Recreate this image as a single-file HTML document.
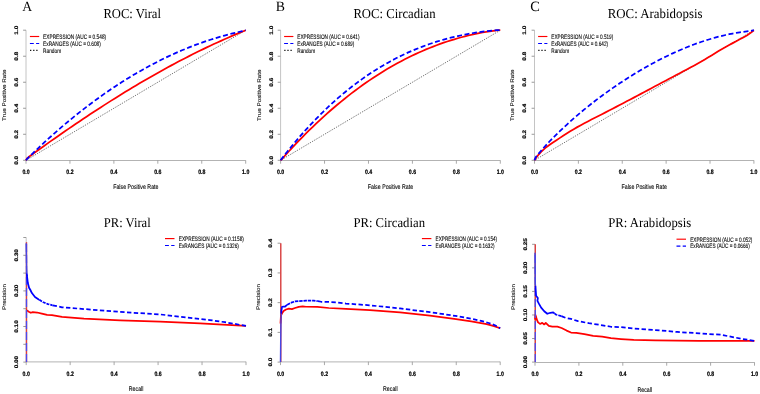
<!DOCTYPE html>
<html><head><meta charset="utf-8"><style>
html,body{margin:0;padding:0;background:#fff;}
svg{display:block;will-change:transform;text-rendering:geometricPrecision;}

</style></head><body>
<svg width="760" height="394" viewBox="0 0 760 394">
<rect width="760" height="394" fill="#fff"/>
<text x="22.2" y="11.25" textLength="9.9" lengthAdjust="spacingAndGlyphs" text-anchor="start" font-family="Liberation Serif" font-size="14.2" font-weight="normal" fill="#000" >A</text>
<text x="103.4" y="17.85" textLength="57.6" lengthAdjust="spacingAndGlyphs" text-anchor="start" font-family="Liberation Serif" font-size="13.6" font-weight="normal" fill="#000" >ROC: Viral</text>
<line x1="26" y1="160.5" x2="245.7" y2="160.5" stroke="#b3b3b3" stroke-width="1"/>
<line x1="26" y1="160.3" x2="26" y2="163.7" stroke="#9a9a9a" stroke-width="0.85"/>
<text transform="translate(26,174) scale(0.81,1)" text-anchor="middle" font-family="Liberation Sans" font-size="6.4" font-weight="bold" fill="#000"  stroke="#000" stroke-width="0.22">0.0</text>
<line x1="69.94" y1="160.3" x2="69.94" y2="163.7" stroke="#9a9a9a" stroke-width="0.85"/>
<text transform="translate(69.94,174) scale(0.81,1)" text-anchor="middle" font-family="Liberation Sans" font-size="6.4" font-weight="bold" fill="#000"  stroke="#000" stroke-width="0.22">0.2</text>
<line x1="113.88" y1="160.3" x2="113.88" y2="163.7" stroke="#9a9a9a" stroke-width="0.85"/>
<text transform="translate(113.88,174) scale(0.81,1)" text-anchor="middle" font-family="Liberation Sans" font-size="6.4" font-weight="bold" fill="#000"  stroke="#000" stroke-width="0.22">0.4</text>
<line x1="157.82" y1="160.3" x2="157.82" y2="163.7" stroke="#9a9a9a" stroke-width="0.85"/>
<text transform="translate(157.82,174) scale(0.81,1)" text-anchor="middle" font-family="Liberation Sans" font-size="6.4" font-weight="bold" fill="#000"  stroke="#000" stroke-width="0.22">0.6</text>
<line x1="201.76" y1="160.3" x2="201.76" y2="163.7" stroke="#9a9a9a" stroke-width="0.85"/>
<text transform="translate(201.76,174) scale(0.81,1)" text-anchor="middle" font-family="Liberation Sans" font-size="6.4" font-weight="bold" fill="#000"  stroke="#000" stroke-width="0.22">0.8</text>
<line x1="245.7" y1="160.3" x2="245.7" y2="163.7" stroke="#9a9a9a" stroke-width="0.85"/>
<text transform="translate(245.7,174) scale(0.81,1)" text-anchor="middle" font-family="Liberation Sans" font-size="6.4" font-weight="bold" fill="#000"  stroke="#000" stroke-width="0.22">1.0</text>
<line x1="26" y1="160.3" x2="26" y2="30.2" stroke="#c4c4c4" stroke-width="1"/>
<line x1="23.1" y1="160.3" x2="26" y2="160.3" stroke="#9a9a9a" stroke-width="1"/>
<line x1="23.1" y1="134.28" x2="26" y2="134.28" stroke="#9a9a9a" stroke-width="1"/>
<line x1="23.1" y1="108.26" x2="26" y2="108.26" stroke="#9a9a9a" stroke-width="1"/>
<line x1="23.1" y1="82.24" x2="26" y2="82.24" stroke="#9a9a9a" stroke-width="1"/>
<line x1="23.1" y1="56.22" x2="26" y2="56.22" stroke="#9a9a9a" stroke-width="1"/>
<line x1="23.1" y1="30.2" x2="26" y2="30.2" stroke="#9a9a9a" stroke-width="1"/>
<text transform="translate(17.9,160.3) scale(0.81,1) rotate(-90)" stroke="#000" stroke-width="0.22" text-anchor="middle" font-family="Liberation Sans" font-size="6.4" font-weight="bold" fill="#000">0.0</text>
<text transform="translate(17.9,134.28) scale(0.81,1) rotate(-90)" stroke="#000" stroke-width="0.22" text-anchor="middle" font-family="Liberation Sans" font-size="6.4" font-weight="bold" fill="#000">0.2</text>
<text transform="translate(17.9,108.26) scale(0.81,1) rotate(-90)" stroke="#000" stroke-width="0.22" text-anchor="middle" font-family="Liberation Sans" font-size="6.4" font-weight="bold" fill="#000">0.4</text>
<text transform="translate(17.9,82.24) scale(0.81,1) rotate(-90)" stroke="#000" stroke-width="0.22" text-anchor="middle" font-family="Liberation Sans" font-size="6.4" font-weight="bold" fill="#000">0.6</text>
<text transform="translate(17.9,56.22) scale(0.81,1) rotate(-90)" stroke="#000" stroke-width="0.22" text-anchor="middle" font-family="Liberation Sans" font-size="6.4" font-weight="bold" fill="#000">0.8</text>
<text transform="translate(17.9,30.2) scale(0.81,1) rotate(-90)" stroke="#000" stroke-width="0.22" text-anchor="middle" font-family="Liberation Sans" font-size="6.4" font-weight="bold" fill="#000">1.0</text>
<text transform="translate(135.85,189.3) scale(0.785,1)" text-anchor="middle" font-family="Liberation Sans" font-size="6.7" font-weight="normal" fill="#000"  stroke="#000" stroke-width="0.1">False Positive Rate</text>
<text transform="translate(5.9,95.25) scale(0.85,1) rotate(-90)" stroke="#000" stroke-width="0.1" text-anchor="middle" font-family="Liberation Sans" font-size="6.3" font-weight="normal" fill="#000">True Positive Rate</text>
<path d="M26,160.3 L245.7,30.2" fill="none" stroke="#333" stroke-width="0.85" stroke-dasharray="0.9 1.25" stroke-linejoin="round" />
<path d="M26,160.3 L27.1,158.18 L28.2,157.38 L29.3,156.57 L30.39,155.78 L31.49,154.98 L32.59,154.18 L33.69,153.38 L34.79,152.59 L35.89,151.79 L36.98,151 L40.52,148.46 L44.06,145.93 L47.6,143.41 L51.14,140.91 L54.67,138.42 L58.21,135.94 L61.75,133.48 L65.29,131.04 L68.82,128.6 L72.36,126.19 L75.9,123.78 L79.44,121.4 L82.97,119.02 L86.51,116.67 L90.05,114.33 L93.59,112 L97.12,109.7 L100.66,107.41 L104.2,105.13 L107.74,102.87 L111.27,100.63 L114.81,98.41 L118.35,96.2 L121.89,94.02 L125.42,91.85 L128.96,89.7 L132.5,87.56 L136.04,85.45 L139.57,83.35 L143.11,81.28 L146.65,79.22 L150.19,77.18 L153.72,75.16 L157.26,73.16 L160.8,71.19 L164.34,69.23 L167.87,67.29 L171.41,65.38 L174.95,63.48 L178.49,61.6 L182.02,59.75 L185.56,57.92 L189.1,56.11 L192.64,54.32 L196.17,52.56 L199.71,50.81 L203.25,49.09 L206.79,47.4 L210.32,45.72 L213.86,44.07 L217.4,42.44 L220.94,40.84 L224.47,39.26 L228.01,37.7 L231.55,36.17 L235.09,34.66 L238.62,33.18 L242.16,31.72 L245.7,30.2" fill="none" stroke="#ff0000" stroke-width="1.75" stroke-linejoin="round" />
<path d="M26,160.3 L27.1,158.9 L28.2,157.82 L29.3,156.74 L30.39,155.67 L31.49,154.6 L32.59,153.53 L33.69,152.47 L34.79,151.42 L35.89,150.37 L36.98,149.32 L40.52,145.99 L44.06,142.7 L47.6,139.46 L51.14,136.26 L54.67,133.11 L58.21,130.01 L61.75,126.95 L65.29,123.95 L68.82,120.98 L72.36,118.07 L75.9,115.2 L79.44,112.38 L82.97,109.6 L86.51,106.87 L90.05,104.18 L93.59,101.55 L97.12,98.95 L100.66,96.41 L104.2,93.9 L107.74,91.45 L111.27,89.04 L114.81,86.68 L118.35,84.36 L121.89,82.08 L125.42,79.85 L128.96,77.67 L132.5,75.53 L136.04,73.44 L139.57,71.39 L143.11,69.39 L146.65,67.43 L150.19,65.52 L153.72,63.65 L157.26,61.83 L160.8,60.05 L164.34,58.31 L167.87,56.62 L171.41,54.97 L174.95,53.37 L178.49,51.81 L182.02,50.3 L185.56,48.83 L189.1,47.4 L192.64,46.02 L196.17,44.68 L199.71,43.39 L203.25,42.14 L206.79,40.93 L210.32,39.76 L213.86,38.64 L217.4,37.57 L220.94,36.53 L224.47,35.54 L228.01,34.59 L231.55,33.69 L235.09,32.82 L238.62,32 L242.16,31.23 L245.7,30.2" fill="none" stroke="#0000ff" stroke-width="1.75" stroke-dasharray="5.0 2.6" stroke-linejoin="round" />
<line x1="29.9" y1="36.5" x2="39.2" y2="36.5" stroke="#ff0000" stroke-width="1.15"/>
<line x1="29.9" y1="43.5" x2="39.2" y2="43.5" stroke="#0000ff" stroke-width="1.1" stroke-dasharray="3.9 2.3"/>
<line x1="30.1" y1="50.4" x2="39.2" y2="50.4" stroke="#000" stroke-width="1.1" stroke-dasharray="1.2 1.9"/>
<text transform="translate(43.1,38.8) scale(0.7471875,1)" text-anchor="start" font-family="Liberation Sans" font-size="6.4" font-weight="normal" fill="#000"  stroke="#000" stroke-width="0.1">EXPRESSION (AUC = 0.548)</text>
<text transform="translate(43.1,45.8) scale(0.7471875,1)" text-anchor="start" font-family="Liberation Sans" font-size="6.4" font-weight="normal" fill="#000"  stroke="#000" stroke-width="0.1">ExRANGES (AUC = 0.608)</text>
<text transform="translate(43.1,52.8) scale(0.7471875,1)" text-anchor="start" font-family="Liberation Sans" font-size="6.4" font-weight="normal" fill="#000"  stroke="#000" stroke-width="0.1">Random</text>
<text x="275.7" y="11.25" textLength="9.2" lengthAdjust="spacingAndGlyphs" text-anchor="start" font-family="Liberation Serif" font-size="14.2" font-weight="normal" fill="#000" >B</text>
<text x="353.4" y="17.85" textLength="82.2" lengthAdjust="spacingAndGlyphs" text-anchor="start" font-family="Liberation Serif" font-size="13.6" font-weight="normal" fill="#000" >ROC: Circadian</text>
<line x1="280.6" y1="160.5" x2="500.3" y2="160.5" stroke="#b3b3b3" stroke-width="1"/>
<line x1="280.6" y1="160.3" x2="280.6" y2="163.7" stroke="#9a9a9a" stroke-width="0.85"/>
<text transform="translate(280.6,174) scale(0.81,1)" text-anchor="middle" font-family="Liberation Sans" font-size="6.4" font-weight="bold" fill="#000"  stroke="#000" stroke-width="0.22">0.0</text>
<line x1="324.54" y1="160.3" x2="324.54" y2="163.7" stroke="#9a9a9a" stroke-width="0.85"/>
<text transform="translate(324.54,174) scale(0.81,1)" text-anchor="middle" font-family="Liberation Sans" font-size="6.4" font-weight="bold" fill="#000"  stroke="#000" stroke-width="0.22">0.2</text>
<line x1="368.48" y1="160.3" x2="368.48" y2="163.7" stroke="#9a9a9a" stroke-width="0.85"/>
<text transform="translate(368.48,174) scale(0.81,1)" text-anchor="middle" font-family="Liberation Sans" font-size="6.4" font-weight="bold" fill="#000"  stroke="#000" stroke-width="0.22">0.4</text>
<line x1="412.42" y1="160.3" x2="412.42" y2="163.7" stroke="#9a9a9a" stroke-width="0.85"/>
<text transform="translate(412.42,174) scale(0.81,1)" text-anchor="middle" font-family="Liberation Sans" font-size="6.4" font-weight="bold" fill="#000"  stroke="#000" stroke-width="0.22">0.6</text>
<line x1="456.36" y1="160.3" x2="456.36" y2="163.7" stroke="#9a9a9a" stroke-width="0.85"/>
<text transform="translate(456.36,174) scale(0.81,1)" text-anchor="middle" font-family="Liberation Sans" font-size="6.4" font-weight="bold" fill="#000"  stroke="#000" stroke-width="0.22">0.8</text>
<line x1="500.3" y1="160.3" x2="500.3" y2="163.7" stroke="#9a9a9a" stroke-width="0.85"/>
<text transform="translate(500.3,174) scale(0.81,1)" text-anchor="middle" font-family="Liberation Sans" font-size="6.4" font-weight="bold" fill="#000"  stroke="#000" stroke-width="0.22">1.0</text>
<line x1="280.6" y1="160.3" x2="280.6" y2="30.2" stroke="#c4c4c4" stroke-width="1"/>
<line x1="277.7" y1="160.3" x2="280.6" y2="160.3" stroke="#9a9a9a" stroke-width="1"/>
<line x1="277.7" y1="134.28" x2="280.6" y2="134.28" stroke="#9a9a9a" stroke-width="1"/>
<line x1="277.7" y1="108.26" x2="280.6" y2="108.26" stroke="#9a9a9a" stroke-width="1"/>
<line x1="277.7" y1="82.24" x2="280.6" y2="82.24" stroke="#9a9a9a" stroke-width="1"/>
<line x1="277.7" y1="56.22" x2="280.6" y2="56.22" stroke="#9a9a9a" stroke-width="1"/>
<line x1="277.7" y1="30.2" x2="280.6" y2="30.2" stroke="#9a9a9a" stroke-width="1"/>
<text transform="translate(272.5,160.3) scale(0.81,1) rotate(-90)" stroke="#000" stroke-width="0.22" text-anchor="middle" font-family="Liberation Sans" font-size="6.4" font-weight="bold" fill="#000">0.0</text>
<text transform="translate(272.5,134.28) scale(0.81,1) rotate(-90)" stroke="#000" stroke-width="0.22" text-anchor="middle" font-family="Liberation Sans" font-size="6.4" font-weight="bold" fill="#000">0.2</text>
<text transform="translate(272.5,108.26) scale(0.81,1) rotate(-90)" stroke="#000" stroke-width="0.22" text-anchor="middle" font-family="Liberation Sans" font-size="6.4" font-weight="bold" fill="#000">0.4</text>
<text transform="translate(272.5,82.24) scale(0.81,1) rotate(-90)" stroke="#000" stroke-width="0.22" text-anchor="middle" font-family="Liberation Sans" font-size="6.4" font-weight="bold" fill="#000">0.6</text>
<text transform="translate(272.5,56.22) scale(0.81,1) rotate(-90)" stroke="#000" stroke-width="0.22" text-anchor="middle" font-family="Liberation Sans" font-size="6.4" font-weight="bold" fill="#000">0.8</text>
<text transform="translate(272.5,30.2) scale(0.81,1) rotate(-90)" stroke="#000" stroke-width="0.22" text-anchor="middle" font-family="Liberation Sans" font-size="6.4" font-weight="bold" fill="#000">1.0</text>
<text transform="translate(390.45,189.3) scale(0.785,1)" text-anchor="middle" font-family="Liberation Sans" font-size="6.7" font-weight="normal" fill="#000"  stroke="#000" stroke-width="0.1">False Positive Rate</text>
<text transform="translate(260.5,95.25) scale(0.85,1) rotate(-90)" stroke="#000" stroke-width="0.1" text-anchor="middle" font-family="Liberation Sans" font-size="6.3" font-weight="normal" fill="#000">True Positive Rate</text>
<path d="M280.6,160.3 L500.3,30.2" fill="none" stroke="#333" stroke-width="0.85" stroke-dasharray="0.9 1.25" stroke-linejoin="round" />
<path d="M280.6,160.3 L281.7,159.31 L282.8,158.07 L283.9,156.84 L284.99,155.62 L286.09,154.4 L287.19,153.19 L288.29,151.98 L289.39,150.78 L290.49,149.59 L291.59,148.4 L295.12,144.63 L298.66,140.92 L302.2,137.28 L305.74,133.71 L309.27,130.2 L312.81,126.76 L316.35,123.38 L319.89,120.07 L323.42,116.83 L326.96,113.65 L330.5,110.53 L334.04,107.48 L337.57,104.49 L341.11,101.56 L344.65,98.7 L348.19,95.9 L351.72,93.16 L355.26,90.48 L358.8,87.87 L362.34,85.31 L365.87,82.82 L369.41,80.39 L372.95,78.01 L376.49,75.7 L380.02,73.45 L383.56,71.26 L387.1,69.12 L390.64,67.04 L394.17,65.03 L397.71,63.07 L401.25,61.16 L404.79,59.32 L408.32,57.53 L411.86,55.8 L415.4,54.12 L418.94,52.5 L422.47,50.93 L426.01,49.42 L429.55,47.97 L433.09,46.57 L436.62,45.22 L440.16,43.93 L443.7,42.69 L447.24,41.5 L450.77,40.37 L454.31,39.29 L457.85,38.26 L461.39,37.28 L464.92,36.36 L468.46,35.48 L472,34.66 L475.54,33.88 L479.07,33.16 L482.61,32.49 L486.15,31.86 L489.69,31.29 L493.22,30.76 L496.76,30.28 L500.3,30.2" fill="none" stroke="#ff0000" stroke-width="1.75" stroke-linejoin="round" />
<path d="M280.6,160.3 L281.7,158.78 L282.8,157.36 L283.9,155.95 L284.99,154.55 L286.09,153.16 L287.19,151.78 L288.29,150.4 L289.39,149.04 L290.49,147.69 L291.59,146.35 L295.12,142.1 L298.66,137.94 L302.2,133.88 L305.74,129.92 L309.27,126.06 L312.81,122.29 L316.35,118.62 L319.89,115.03 L323.42,111.54 L326.96,108.14 L330.5,104.83 L334.04,101.61 L337.57,98.47 L341.11,95.42 L344.65,92.46 L348.19,89.58 L351.72,86.78 L355.26,84.07 L358.8,81.43 L362.34,78.88 L365.87,76.4 L369.41,74.01 L372.95,71.68 L376.49,69.44 L380.02,67.26 L383.56,65.16 L387.1,63.14 L390.64,61.18 L394.17,59.29 L397.71,57.47 L401.25,55.72 L404.79,54.04 L408.32,52.42 L411.86,50.87 L415.4,49.38 L418.94,47.95 L422.47,46.58 L426.01,45.27 L429.55,44.03 L433.09,42.84 L436.62,41.7 L440.16,40.62 L443.7,39.6 L447.24,38.63 L450.77,37.71 L454.31,36.85 L457.85,36.03 L461.39,35.26 L464.92,34.54 L468.46,33.87 L472,33.25 L475.54,32.66 L479.07,32.13 L482.61,31.63 L486.15,31.18 L489.69,30.76 L493.22,30.39 L496.76,30.2 L500.3,30.2" fill="none" stroke="#0000ff" stroke-width="1.75" stroke-dasharray="5.0 2.6" stroke-linejoin="round" />
<line x1="284.1" y1="36.5" x2="293.4" y2="36.5" stroke="#ff0000" stroke-width="1.15"/>
<line x1="284.1" y1="43.5" x2="293.4" y2="43.5" stroke="#0000ff" stroke-width="1.1" stroke-dasharray="3.9 2.3"/>
<line x1="284.3" y1="50.4" x2="293.4" y2="50.4" stroke="#000" stroke-width="1.1" stroke-dasharray="1.2 1.9"/>
<text transform="translate(297.3,38.8) scale(0.7378125,1)" text-anchor="start" font-family="Liberation Sans" font-size="6.4" font-weight="normal" fill="#000"  stroke="#000" stroke-width="0.1">EXPRESSION (AUC = 0.641)</text>
<text transform="translate(297.3,45.8) scale(0.7378125,1)" text-anchor="start" font-family="Liberation Sans" font-size="6.4" font-weight="normal" fill="#000"  stroke="#000" stroke-width="0.1">ExRANGES (AUC = 0.689)</text>
<text transform="translate(297.3,52.8) scale(0.7378125,1)" text-anchor="start" font-family="Liberation Sans" font-size="6.4" font-weight="normal" fill="#000"  stroke="#000" stroke-width="0.1">Random</text>
<text x="530.3" y="11.25" textLength="9.6" lengthAdjust="spacingAndGlyphs" text-anchor="start" font-family="Liberation Serif" font-size="14.2" font-weight="normal" fill="#000" >C</text>
<text x="607.7" y="17.85" textLength="94.8" lengthAdjust="spacingAndGlyphs" text-anchor="start" font-family="Liberation Serif" font-size="13.6" font-weight="normal" fill="#000" >ROC: Arabidopsis</text>
<line x1="534.5" y1="160.5" x2="753.9" y2="160.5" stroke="#b3b3b3" stroke-width="1"/>
<line x1="534.5" y1="160.3" x2="534.5" y2="163.7" stroke="#9a9a9a" stroke-width="0.85"/>
<text transform="translate(534.5,174) scale(0.81,1)" text-anchor="middle" font-family="Liberation Sans" font-size="6.4" font-weight="bold" fill="#000"  stroke="#000" stroke-width="0.22">0.0</text>
<line x1="578.38" y1="160.3" x2="578.38" y2="163.7" stroke="#9a9a9a" stroke-width="0.85"/>
<text transform="translate(578.38,174) scale(0.81,1)" text-anchor="middle" font-family="Liberation Sans" font-size="6.4" font-weight="bold" fill="#000"  stroke="#000" stroke-width="0.22">0.2</text>
<line x1="622.26" y1="160.3" x2="622.26" y2="163.7" stroke="#9a9a9a" stroke-width="0.85"/>
<text transform="translate(622.26,174) scale(0.81,1)" text-anchor="middle" font-family="Liberation Sans" font-size="6.4" font-weight="bold" fill="#000"  stroke="#000" stroke-width="0.22">0.4</text>
<line x1="666.14" y1="160.3" x2="666.14" y2="163.7" stroke="#9a9a9a" stroke-width="0.85"/>
<text transform="translate(666.14,174) scale(0.81,1)" text-anchor="middle" font-family="Liberation Sans" font-size="6.4" font-weight="bold" fill="#000"  stroke="#000" stroke-width="0.22">0.6</text>
<line x1="710.02" y1="160.3" x2="710.02" y2="163.7" stroke="#9a9a9a" stroke-width="0.85"/>
<text transform="translate(710.02,174) scale(0.81,1)" text-anchor="middle" font-family="Liberation Sans" font-size="6.4" font-weight="bold" fill="#000"  stroke="#000" stroke-width="0.22">0.8</text>
<line x1="753.9" y1="160.3" x2="753.9" y2="163.7" stroke="#9a9a9a" stroke-width="0.85"/>
<text transform="translate(753.9,174) scale(0.81,1)" text-anchor="middle" font-family="Liberation Sans" font-size="6.4" font-weight="bold" fill="#000"  stroke="#000" stroke-width="0.22">1.0</text>
<line x1="534.5" y1="160.3" x2="534.5" y2="30.2" stroke="#c4c4c4" stroke-width="1"/>
<line x1="531.6" y1="160.3" x2="534.5" y2="160.3" stroke="#9a9a9a" stroke-width="1"/>
<line x1="531.6" y1="134.28" x2="534.5" y2="134.28" stroke="#9a9a9a" stroke-width="1"/>
<line x1="531.6" y1="108.26" x2="534.5" y2="108.26" stroke="#9a9a9a" stroke-width="1"/>
<line x1="531.6" y1="82.24" x2="534.5" y2="82.24" stroke="#9a9a9a" stroke-width="1"/>
<line x1="531.6" y1="56.22" x2="534.5" y2="56.22" stroke="#9a9a9a" stroke-width="1"/>
<line x1="531.6" y1="30.2" x2="534.5" y2="30.2" stroke="#9a9a9a" stroke-width="1"/>
<text transform="translate(526.4,160.3) scale(0.81,1) rotate(-90)" stroke="#000" stroke-width="0.22" text-anchor="middle" font-family="Liberation Sans" font-size="6.4" font-weight="bold" fill="#000">0.0</text>
<text transform="translate(526.4,134.28) scale(0.81,1) rotate(-90)" stroke="#000" stroke-width="0.22" text-anchor="middle" font-family="Liberation Sans" font-size="6.4" font-weight="bold" fill="#000">0.2</text>
<text transform="translate(526.4,108.26) scale(0.81,1) rotate(-90)" stroke="#000" stroke-width="0.22" text-anchor="middle" font-family="Liberation Sans" font-size="6.4" font-weight="bold" fill="#000">0.4</text>
<text transform="translate(526.4,82.24) scale(0.81,1) rotate(-90)" stroke="#000" stroke-width="0.22" text-anchor="middle" font-family="Liberation Sans" font-size="6.4" font-weight="bold" fill="#000">0.6</text>
<text transform="translate(526.4,56.22) scale(0.81,1) rotate(-90)" stroke="#000" stroke-width="0.22" text-anchor="middle" font-family="Liberation Sans" font-size="6.4" font-weight="bold" fill="#000">0.8</text>
<text transform="translate(526.4,30.2) scale(0.81,1) rotate(-90)" stroke="#000" stroke-width="0.22" text-anchor="middle" font-family="Liberation Sans" font-size="6.4" font-weight="bold" fill="#000">1.0</text>
<text transform="translate(644.2,189.3) scale(0.785,1)" text-anchor="middle" font-family="Liberation Sans" font-size="6.7" font-weight="normal" fill="#000"  stroke="#000" stroke-width="0.1">False Positive Rate</text>
<text transform="translate(514.4,95.25) scale(0.85,1) rotate(-90)" stroke="#000" stroke-width="0.1" text-anchor="middle" font-family="Liberation Sans" font-size="6.3" font-weight="normal" fill="#000">True Positive Rate</text>
<path d="M534.5,160.3 L753.9,30.2" fill="none" stroke="#333" stroke-width="0.85" stroke-dasharray="0.9 1.25" stroke-linejoin="round" />
<path d="M534.5,160.3 L535.6,158.53 L536.69,157.03 L537.79,155.62 L538.89,154.3 L539.99,153.06 L541.08,151.9 L542.18,150.81 L543.28,149.78 L544.37,148.8 L545.47,147.88 L549,145.2 L552.54,142.79 L556.07,140.47 L559.6,138.12 L563.13,135.77 L566.67,133.47 L570.2,131.26 L573.73,129.15 L577.26,127.12 L580.8,125.16 L584.33,123.27 L587.86,121.41 L591.4,119.59 L594.93,117.79 L598.46,115.99 L601.99,114.19 L605.53,112.38 L609.06,110.56 L612.59,108.73 L616.12,106.89 L619.66,105.05 L623.19,103.2 L626.72,101.34 L630.26,99.48 L633.79,97.62 L637.32,95.74 L640.85,93.87 L644.39,91.99 L647.92,90.11 L651.45,88.22 L654.98,86.34 L658.52,84.45 L662.05,82.57 L665.58,80.69 L669.11,78.81 L672.65,76.93 L676.18,75.06 L679.71,73.19 L683.25,71.33 L686.78,69.46 L690.31,67.57 L693.84,65.66 L697.38,63.72 L700.91,61.72 L704.44,59.68 L707.97,57.56 L711.51,55.4 L715.04,53.22 L718.57,51.07 L722.11,48.99 L725.64,46.99 L729.17,45.05 L732.7,43.14 L736.24,41.24 L739.77,39.35 L743.3,37.43 L746.83,35.4 L750.37,33.06 L753.9,30.2" fill="none" stroke="#ff0000" stroke-width="1.75" stroke-linejoin="round" />
<path d="M534.5,160.3 L535.6,157.37 L536.69,156.01 L537.79,154.67 L538.89,153.35 L539.99,152.04 L541.08,150.76 L542.18,149.5 L543.28,148.25 L544.37,147.02 L545.47,145.81 L549,142.01 L552.54,138.35 L556.07,134.82 L559.6,131.39 L563.13,128.04 L566.67,124.77 L570.2,121.57 L573.73,118.43 L577.26,115.37 L580.8,112.37 L584.33,109.44 L587.86,106.57 L591.4,103.76 L594.93,101.01 L598.46,98.32 L601.99,95.69 L605.53,93.12 L609.06,90.59 L612.59,88.12 L616.12,85.7 L619.66,83.33 L623.19,81.01 L626.72,78.73 L630.26,76.5 L633.79,74.31 L637.32,72.17 L640.85,70.07 L644.39,68.02 L647.92,66.02 L651.45,64.06 L654.98,62.16 L658.52,60.3 L662.05,58.49 L665.58,56.73 L669.11,55.02 L672.65,53.36 L676.18,51.75 L679.71,50.2 L683.25,48.7 L686.78,47.25 L690.31,45.86 L693.84,44.52 L697.38,43.23 L700.91,42 L704.44,40.83 L707.97,39.71 L711.51,38.65 L715.04,37.65 L718.57,36.7 L722.11,35.82 L725.64,34.99 L729.17,34.23 L732.7,33.52 L736.24,32.88 L739.77,32.3 L743.3,31.78 L746.83,31.32 L750.37,30.92 L753.9,30.2" fill="none" stroke="#0000ff" stroke-width="1.75" stroke-dasharray="5.0 2.6" stroke-linejoin="round" />
<line x1="538.1" y1="36.5" x2="547.4" y2="36.5" stroke="#ff0000" stroke-width="1.15"/>
<line x1="538.1" y1="43.5" x2="547.4" y2="43.5" stroke="#0000ff" stroke-width="1.1" stroke-dasharray="3.9 2.3"/>
<line x1="538.3" y1="50.4" x2="547.4" y2="50.4" stroke="#000" stroke-width="1.1" stroke-dasharray="1.2 1.9"/>
<text transform="translate(551.3,38.8) scale(0.7350000000000001,1)" text-anchor="start" font-family="Liberation Sans" font-size="6.4" font-weight="normal" fill="#000"  stroke="#000" stroke-width="0.1">EXPRESSION (AUC = 0.519)</text>
<text transform="translate(551.3,45.8) scale(0.7350000000000001,1)" text-anchor="start" font-family="Liberation Sans" font-size="6.4" font-weight="normal" fill="#000"  stroke="#000" stroke-width="0.1">ExRANGES (AUC = 0.642)</text>
<text transform="translate(551.3,52.8) scale(0.7350000000000001,1)" text-anchor="start" font-family="Liberation Sans" font-size="6.4" font-weight="normal" fill="#000"  stroke="#000" stroke-width="0.1">Random</text>
<text x="103.8" y="226.5" textLength="46.9" lengthAdjust="spacingAndGlyphs" text-anchor="start" font-family="Liberation Serif" font-size="13.5" font-weight="normal" fill="#000" >PR: Viral</text>
<line x1="26.2" y1="361.9" x2="246" y2="361.9" stroke="#b3b3b3" stroke-width="1"/>
<line x1="26.2" y1="361.7" x2="26.2" y2="365.1" stroke="#9a9a9a" stroke-width="0.85"/>
<text transform="translate(26.2,375.8) scale(0.81,1)" text-anchor="middle" font-family="Liberation Sans" font-size="6.4" font-weight="bold" fill="#000"  stroke="#000" stroke-width="0.22">0.0</text>
<line x1="70.16" y1="361.7" x2="70.16" y2="365.1" stroke="#9a9a9a" stroke-width="0.85"/>
<text transform="translate(70.16,375.8) scale(0.81,1)" text-anchor="middle" font-family="Liberation Sans" font-size="6.4" font-weight="bold" fill="#000"  stroke="#000" stroke-width="0.22">0.2</text>
<line x1="114.12" y1="361.7" x2="114.12" y2="365.1" stroke="#9a9a9a" stroke-width="0.85"/>
<text transform="translate(114.12,375.8) scale(0.81,1)" text-anchor="middle" font-family="Liberation Sans" font-size="6.4" font-weight="bold" fill="#000"  stroke="#000" stroke-width="0.22">0.4</text>
<line x1="158.08" y1="361.7" x2="158.08" y2="365.1" stroke="#9a9a9a" stroke-width="0.85"/>
<text transform="translate(158.08,375.8) scale(0.81,1)" text-anchor="middle" font-family="Liberation Sans" font-size="6.4" font-weight="bold" fill="#000"  stroke="#000" stroke-width="0.22">0.6</text>
<line x1="202.04" y1="361.7" x2="202.04" y2="365.1" stroke="#9a9a9a" stroke-width="0.85"/>
<text transform="translate(202.04,375.8) scale(0.81,1)" text-anchor="middle" font-family="Liberation Sans" font-size="6.4" font-weight="bold" fill="#000"  stroke="#000" stroke-width="0.22">0.8</text>
<line x1="246" y1="361.7" x2="246" y2="365.1" stroke="#9a9a9a" stroke-width="0.85"/>
<text transform="translate(246,375.8) scale(0.81,1)" text-anchor="middle" font-family="Liberation Sans" font-size="6.4" font-weight="bold" fill="#000"  stroke="#000" stroke-width="0.22">1.0</text>
<line x1="26.2" y1="362.1" x2="26.2" y2="237.5" stroke="#c4c4c4" stroke-width="1"/>
<line x1="23.3" y1="362.1" x2="26.2" y2="362.1" stroke="#9a9a9a" stroke-width="1"/>
<line x1="23.3" y1="344.3" x2="26.2" y2="344.3" stroke="#9a9a9a" stroke-width="1"/>
<line x1="23.3" y1="326.5" x2="26.2" y2="326.5" stroke="#9a9a9a" stroke-width="1"/>
<line x1="23.3" y1="308.7" x2="26.2" y2="308.7" stroke="#9a9a9a" stroke-width="1"/>
<line x1="23.3" y1="290.9" x2="26.2" y2="290.9" stroke="#9a9a9a" stroke-width="1"/>
<line x1="23.3" y1="273.1" x2="26.2" y2="273.1" stroke="#9a9a9a" stroke-width="1"/>
<line x1="23.3" y1="255.3" x2="26.2" y2="255.3" stroke="#9a9a9a" stroke-width="1"/>
<line x1="23.3" y1="237.5" x2="26.2" y2="237.5" stroke="#9a9a9a" stroke-width="1"/>
<text transform="translate(18.1,362.1) scale(0.81,1) rotate(-90)" stroke="#000" stroke-width="0.22" text-anchor="middle" font-family="Liberation Sans" font-size="6.4" font-weight="bold" fill="#000">0.00</text>
<text transform="translate(18.1,326.5) scale(0.81,1) rotate(-90)" stroke="#000" stroke-width="0.22" text-anchor="middle" font-family="Liberation Sans" font-size="6.4" font-weight="bold" fill="#000">0.10</text>
<text transform="translate(18.1,290.9) scale(0.81,1) rotate(-90)" stroke="#000" stroke-width="0.22" text-anchor="middle" font-family="Liberation Sans" font-size="6.4" font-weight="bold" fill="#000">0.20</text>
<text transform="translate(18.1,255.3) scale(0.81,1) rotate(-90)" stroke="#000" stroke-width="0.22" text-anchor="middle" font-family="Liberation Sans" font-size="6.4" font-weight="bold" fill="#000">0.30</text>
<text transform="translate(136.1,391.1) scale(0.785,1)" text-anchor="middle" font-family="Liberation Sans" font-size="6.7" font-weight="normal" fill="#000"  stroke="#000" stroke-width="0.1">Recall</text>
<text transform="translate(6.1,297.05) scale(0.85,1) rotate(-90)" stroke="#000" stroke-width="0.1" text-anchor="middle" font-family="Liberation Sans" font-size="6.3" font-weight="normal" fill="#000">Precision</text>
<path d="M26.5,362.1 L26.5,242.13" fill="none" stroke="#dc4040" stroke-width="1.4" stroke-linejoin="round" />
<path d="M26.2,310.48 L27.3,310.59 L28.84,311.69 L30.82,312.79 L32.79,312.12 L37.19,312.51 L41.81,313.61 L47.08,314.79 L51.92,315.11 L62.03,316.89 L84.01,318.67 L120.05,320.45 L160.06,321.69 L200.06,323.3 L222.7,324.72 L246,325.89" fill="none" stroke="#ff0000" stroke-width="1.75" stroke-linejoin="round" />
<path d="M26.5,362.1 L26.5,243.2" fill="none" stroke="#4a4af0" stroke-width="1.3" stroke-dasharray="8 3" stroke-linejoin="round" />
<path d="M26.2,243.2 L26.42,255.3 L26.64,268.83 L26.86,273.57" fill="none" stroke="#4646e4" stroke-width="1.4" stroke-linejoin="round" />
<path d="M26.86,273.57 L26.97,275.95 L27.85,283.07 L29.06,287.7 L30.38,290.01 L31.91,293.04 L34.99,296.95 L38.73,299.44 L39.39,299.85" fill="none" stroke="#0000ff" stroke-width="1.75" stroke-linejoin="round" />
<path d="M39.39,299.85 L43.34,302.29 L47.96,304.07 L51.92,305.14 L52.58,305.28" fill="none" stroke="#0000ff" stroke-width="1.75" stroke-dasharray="3 1" stroke-linejoin="round" />
<path d="M52.58,305.28 L62.03,307.28 L84.01,309.06 L120.05,311.9 L160.06,314.4 L200.06,319.02 L209.95,320.09 L225.12,322.23 L240.29,324.9 L246,325.89" fill="none" stroke="#0000ff" stroke-width="1.75" stroke-dasharray="4.4 2.4" stroke-linejoin="round" />
<line x1="165" y1="238.6" x2="174.5" y2="238.6" stroke="#ff0000" stroke-width="1.15"/>
<line x1="165" y1="245.5" x2="174.5" y2="245.5" stroke="#0000ff" stroke-width="1.1" stroke-dasharray="3.9 2.3"/>
<text transform="translate(178.7,240.9) scale(0.7453125,1)" text-anchor="start" font-family="Liberation Sans" font-size="6.4" font-weight="normal" fill="#000"  stroke="#000" stroke-width="0.1">EXPRESSION (AUC = 0.1158)</text>
<text transform="translate(178.7,247.8) scale(0.7453125,1)" text-anchor="start" font-family="Liberation Sans" font-size="6.4" font-weight="normal" fill="#000"  stroke="#000" stroke-width="0.1">ExRANGES (AUC = 0.1326)</text>
<text x="353.4" y="226.5" textLength="71.6" lengthAdjust="spacingAndGlyphs" text-anchor="start" font-family="Liberation Serif" font-size="13.5" font-weight="normal" fill="#000" >PR: Circadian</text>
<line x1="280.5" y1="361.9" x2="500.2" y2="361.9" stroke="#b3b3b3" stroke-width="1"/>
<line x1="280.5" y1="361.7" x2="280.5" y2="365.1" stroke="#9a9a9a" stroke-width="0.85"/>
<text transform="translate(280.5,375.8) scale(0.81,1)" text-anchor="middle" font-family="Liberation Sans" font-size="6.4" font-weight="bold" fill="#000"  stroke="#000" stroke-width="0.22">0.0</text>
<line x1="324.44" y1="361.7" x2="324.44" y2="365.1" stroke="#9a9a9a" stroke-width="0.85"/>
<text transform="translate(324.44,375.8) scale(0.81,1)" text-anchor="middle" font-family="Liberation Sans" font-size="6.4" font-weight="bold" fill="#000"  stroke="#000" stroke-width="0.22">0.2</text>
<line x1="368.38" y1="361.7" x2="368.38" y2="365.1" stroke="#9a9a9a" stroke-width="0.85"/>
<text transform="translate(368.38,375.8) scale(0.81,1)" text-anchor="middle" font-family="Liberation Sans" font-size="6.4" font-weight="bold" fill="#000"  stroke="#000" stroke-width="0.22">0.4</text>
<line x1="412.32" y1="361.7" x2="412.32" y2="365.1" stroke="#9a9a9a" stroke-width="0.85"/>
<text transform="translate(412.32,375.8) scale(0.81,1)" text-anchor="middle" font-family="Liberation Sans" font-size="6.4" font-weight="bold" fill="#000"  stroke="#000" stroke-width="0.22">0.6</text>
<line x1="456.26" y1="361.7" x2="456.26" y2="365.1" stroke="#9a9a9a" stroke-width="0.85"/>
<text transform="translate(456.26,375.8) scale(0.81,1)" text-anchor="middle" font-family="Liberation Sans" font-size="6.4" font-weight="bold" fill="#000"  stroke="#000" stroke-width="0.22">0.8</text>
<line x1="500.2" y1="361.7" x2="500.2" y2="365.1" stroke="#9a9a9a" stroke-width="0.85"/>
<text transform="translate(500.2,375.8) scale(0.81,1)" text-anchor="middle" font-family="Liberation Sans" font-size="6.4" font-weight="bold" fill="#000"  stroke="#000" stroke-width="0.22">1.0</text>
<line x1="280.5" y1="362.1" x2="280.5" y2="243.2" stroke="#c4c4c4" stroke-width="1"/>
<line x1="277.6" y1="362.1" x2="280.5" y2="362.1" stroke="#9a9a9a" stroke-width="1"/>
<line x1="277.6" y1="332.38" x2="280.5" y2="332.38" stroke="#9a9a9a" stroke-width="1"/>
<line x1="277.6" y1="302.65" x2="280.5" y2="302.65" stroke="#9a9a9a" stroke-width="1"/>
<line x1="277.6" y1="272.93" x2="280.5" y2="272.93" stroke="#9a9a9a" stroke-width="1"/>
<line x1="277.6" y1="243.2" x2="280.5" y2="243.2" stroke="#9a9a9a" stroke-width="1"/>
<text transform="translate(272.4,362.1) scale(0.81,1) rotate(-90)" stroke="#000" stroke-width="0.22" text-anchor="middle" font-family="Liberation Sans" font-size="6.4" font-weight="bold" fill="#000">0.0</text>
<text transform="translate(272.4,332.38) scale(0.81,1) rotate(-90)" stroke="#000" stroke-width="0.22" text-anchor="middle" font-family="Liberation Sans" font-size="6.4" font-weight="bold" fill="#000">0.1</text>
<text transform="translate(272.4,302.65) scale(0.81,1) rotate(-90)" stroke="#000" stroke-width="0.22" text-anchor="middle" font-family="Liberation Sans" font-size="6.4" font-weight="bold" fill="#000">0.2</text>
<text transform="translate(272.4,272.93) scale(0.81,1) rotate(-90)" stroke="#000" stroke-width="0.22" text-anchor="middle" font-family="Liberation Sans" font-size="6.4" font-weight="bold" fill="#000">0.3</text>
<text transform="translate(272.4,243.2) scale(0.81,1) rotate(-90)" stroke="#000" stroke-width="0.22" text-anchor="middle" font-family="Liberation Sans" font-size="6.4" font-weight="bold" fill="#000">0.4</text>
<text transform="translate(390.35,391.1) scale(0.785,1)" text-anchor="middle" font-family="Liberation Sans" font-size="6.7" font-weight="normal" fill="#000"  stroke="#000" stroke-width="0.1">Recall</text>
<text transform="translate(260.4,297.05) scale(0.85,1) rotate(-90)" stroke="#000" stroke-width="0.1" text-anchor="middle" font-family="Liberation Sans" font-size="6.3" font-weight="normal" fill="#000">Precision</text>
<path d="M280.8,362.1 L280.8,243.2" fill="none" stroke="#dc4040" stroke-width="1.4" stroke-linejoin="round" />
<path d="M280.5,323.46 L280.94,315.73 L282.04,313.35 L283.58,310.97 L285.99,309.49 L288.85,308.6 L291.92,309.19 L295,308 L298.74,306.81 L302.69,306.37 L305.99,306.75 L317.41,306.96 L328.83,308 L345.97,308.89 L369.92,310.08 L400.02,312.46 L429.9,315.55 L456.04,319.18 L471.2,321.47 L486.58,324.05 L494.05,326.07 L500.2,328.21" fill="none" stroke="#ff0000" stroke-width="1.75" stroke-linejoin="round" />
<path d="M280.5,362.1 L280.72,338.32 L280.94,321.67 L281.27,313.65" fill="none" stroke="#4646e4" stroke-width="1.4" stroke-linejoin="round" />
<path d="M281.27,313.65 L281.38,310.97 L282.04,306.81 L283.58,306.51 L285.11,306.51 L287.09,304.91" fill="none" stroke="#0000ff" stroke-width="1.75" stroke-linejoin="round" />
<path d="M287.09,304.91 L287.31,304.73 L291.27,302.65 L295,301.46 L298.74,301.16 L305.99,300.57 L313.67,300.57 L317.85,301.23" fill="none" stroke="#0000ff" stroke-width="1.75" stroke-dasharray="3.4 0.9" stroke-linejoin="round" />
<path d="M317.85,301.23 L321.14,301.76 L328.83,301.94 L336.52,302.35 L345.97,303.54 L369.92,305.33 L400.02,308.45 L429.9,312.16 L459.01,316.47 L466.7,317.87 L474.28,319.36 L481.09,320.87 L488.78,322.98 L494.93,325.24 L500.2,328.21" fill="none" stroke="#0000ff" stroke-width="1.75" stroke-dasharray="4.4 2.4" stroke-linejoin="round" />
<line x1="421.9" y1="238.6" x2="431.4" y2="238.6" stroke="#ff0000" stroke-width="1.15"/>
<line x1="421.9" y1="245.5" x2="431.4" y2="245.5" stroke="#0000ff" stroke-width="1.1" stroke-dasharray="3.9 2.3"/>
<text transform="translate(435.6,240.9) scale(0.729375,1)" text-anchor="start" font-family="Liberation Sans" font-size="6.4" font-weight="normal" fill="#000"  stroke="#000" stroke-width="0.1">EXPRESSION (AUC = 0.154)</text>
<text transform="translate(435.6,247.8) scale(0.729375,1)" text-anchor="start" font-family="Liberation Sans" font-size="6.4" font-weight="normal" fill="#000"  stroke="#000" stroke-width="0.1">ExRANGES (AUC = 0.1632)</text>
<text x="608.2" y="226.5" textLength="83" lengthAdjust="spacingAndGlyphs" text-anchor="start" font-family="Liberation Serif" font-size="13.5" font-weight="normal" fill="#000" >PR: Arabidopsis</text>
<line x1="535" y1="362.5" x2="754.5" y2="362.5" stroke="#b3b3b3" stroke-width="1"/>
<line x1="535" y1="362.3" x2="535" y2="365.7" stroke="#9a9a9a" stroke-width="0.85"/>
<text transform="translate(535,376.4) scale(0.81,1)" text-anchor="middle" font-family="Liberation Sans" font-size="6.4" font-weight="bold" fill="#000"  stroke="#000" stroke-width="0.22">0.0</text>
<line x1="578.9" y1="362.3" x2="578.9" y2="365.7" stroke="#9a9a9a" stroke-width="0.85"/>
<text transform="translate(578.9,376.4) scale(0.81,1)" text-anchor="middle" font-family="Liberation Sans" font-size="6.4" font-weight="bold" fill="#000"  stroke="#000" stroke-width="0.22">0.2</text>
<line x1="622.8" y1="362.3" x2="622.8" y2="365.7" stroke="#9a9a9a" stroke-width="0.85"/>
<text transform="translate(622.8,376.4) scale(0.81,1)" text-anchor="middle" font-family="Liberation Sans" font-size="6.4" font-weight="bold" fill="#000"  stroke="#000" stroke-width="0.22">0.4</text>
<line x1="666.7" y1="362.3" x2="666.7" y2="365.7" stroke="#9a9a9a" stroke-width="0.85"/>
<text transform="translate(666.7,376.4) scale(0.81,1)" text-anchor="middle" font-family="Liberation Sans" font-size="6.4" font-weight="bold" fill="#000"  stroke="#000" stroke-width="0.22">0.6</text>
<line x1="710.6" y1="362.3" x2="710.6" y2="365.7" stroke="#9a9a9a" stroke-width="0.85"/>
<text transform="translate(710.6,376.4) scale(0.81,1)" text-anchor="middle" font-family="Liberation Sans" font-size="6.4" font-weight="bold" fill="#000"  stroke="#000" stroke-width="0.22">0.8</text>
<line x1="754.5" y1="362.3" x2="754.5" y2="365.7" stroke="#9a9a9a" stroke-width="0.85"/>
<text transform="translate(754.5,376.4) scale(0.81,1)" text-anchor="middle" font-family="Liberation Sans" font-size="6.4" font-weight="bold" fill="#000"  stroke="#000" stroke-width="0.22">1.0</text>
<line x1="535" y1="362.1" x2="535" y2="244.3" stroke="#c4c4c4" stroke-width="1"/>
<line x1="532.1" y1="362.1" x2="535" y2="362.1" stroke="#9a9a9a" stroke-width="1"/>
<line x1="532.1" y1="338.54" x2="535" y2="338.54" stroke="#9a9a9a" stroke-width="1"/>
<line x1="532.1" y1="314.98" x2="535" y2="314.98" stroke="#9a9a9a" stroke-width="1"/>
<line x1="532.1" y1="291.42" x2="535" y2="291.42" stroke="#9a9a9a" stroke-width="1"/>
<line x1="532.1" y1="267.86" x2="535" y2="267.86" stroke="#9a9a9a" stroke-width="1"/>
<line x1="532.1" y1="244.3" x2="535" y2="244.3" stroke="#9a9a9a" stroke-width="1"/>
<text transform="translate(526.9,362.1) scale(0.81,1) rotate(-90)" stroke="#000" stroke-width="0.22" text-anchor="middle" font-family="Liberation Sans" font-size="6.4" font-weight="bold" fill="#000">0.00</text>
<text transform="translate(526.9,338.54) scale(0.81,1) rotate(-90)" stroke="#000" stroke-width="0.22" text-anchor="middle" font-family="Liberation Sans" font-size="6.4" font-weight="bold" fill="#000">0.05</text>
<text transform="translate(526.9,314.98) scale(0.81,1) rotate(-90)" stroke="#000" stroke-width="0.22" text-anchor="middle" font-family="Liberation Sans" font-size="6.4" font-weight="bold" fill="#000">0.10</text>
<text transform="translate(526.9,291.42) scale(0.81,1) rotate(-90)" stroke="#000" stroke-width="0.22" text-anchor="middle" font-family="Liberation Sans" font-size="6.4" font-weight="bold" fill="#000">0.15</text>
<text transform="translate(526.9,267.86) scale(0.81,1) rotate(-90)" stroke="#000" stroke-width="0.22" text-anchor="middle" font-family="Liberation Sans" font-size="6.4" font-weight="bold" fill="#000">0.20</text>
<text transform="translate(526.9,244.3) scale(0.81,1) rotate(-90)" stroke="#000" stroke-width="0.22" text-anchor="middle" font-family="Liberation Sans" font-size="6.4" font-weight="bold" fill="#000">0.25</text>
<text transform="translate(644.75,391.7) scale(0.785,1)" text-anchor="middle" font-family="Liberation Sans" font-size="6.7" font-weight="normal" fill="#000"  stroke="#000" stroke-width="0.1">Recall</text>
<text transform="translate(514.9,297.05) scale(0.85,1) rotate(-90)" stroke="#000" stroke-width="0.1" text-anchor="middle" font-family="Liberation Sans" font-size="6.3" font-weight="normal" fill="#000">Precision</text>
<path d="M535.3,362.1 L535.3,244.3" fill="none" stroke="#dc4040" stroke-width="1.4" stroke-linejoin="round" />
<path d="M535,319.69 L535.44,314.98 L536.1,316.86 L536.54,318.84 L538.07,322.38 L540.05,323.93 L542.24,322.85 L544.22,324.45 L545.76,322.85 L548.83,325.96 L552.34,326.67 L557.39,326.67 L561.56,327.99 L566.61,330.58 L571,332.51 L576.27,332.98 L584.39,334.06 L593.17,335.85 L602.17,336.66 L610.95,338.07 L621.04,339.01 L633.77,339.95 L655.51,340.42 L699.19,340.9 L754.5,340.9" fill="none" stroke="#ff0000" stroke-width="1.75" stroke-linejoin="round" />
<path d="M535.3,362.1 L535.3,252.78" fill="none" stroke="#4a4af0" stroke-width="1.3" stroke-dasharray="8 3" stroke-linejoin="round" />
<path d="M535,252.78 L535.11,267.39 L535.22,282 L535.44,285.77" fill="none" stroke="#4646e4" stroke-width="1.4" stroke-linejoin="round" />
<path d="M535.44,285.77 L535.66,289.54 L536.1,295.66 L537.85,298.02 L537.41,300.84 L539.17,304.14 L541.15,307.63 L544.22,311.21 L547.29,313.75 L550.37,312.77 L553.22,312.44 L554.75,313.59" fill="none" stroke="#0000ff" stroke-width="1.75" stroke-linejoin="round" />
<path d="M554.75,313.59 L556.29,314.74 L560.46,315.78 L561.34,316.14" fill="none" stroke="#0000ff" stroke-width="1.75" stroke-dasharray="3 1" stroke-linejoin="round" />
<path d="M561.34,316.14 L565.51,317.85 L571,318.89 L578.02,321.15 L588.78,323.18 L599.31,324.78 L610.95,326.76 L621.04,327.18 L633.77,328.64 L655.51,330.06 L677.24,331.94 L699.19,333.36 L720.92,334.77 L742.87,339.01 L754.5,340.9" fill="none" stroke="#0000ff" stroke-width="1.75" stroke-dasharray="4.4 2.4" stroke-linejoin="round" />
<line x1="676.5" y1="239.2" x2="686" y2="239.2" stroke="#ff0000" stroke-width="1.15"/>
<line x1="676.5" y1="246.1" x2="686" y2="246.1" stroke="#0000ff" stroke-width="1.1" stroke-dasharray="3.9 2.3"/>
<text transform="translate(690.2,241.5) scale(0.736875,1)" text-anchor="start" font-family="Liberation Sans" font-size="6.4" font-weight="normal" fill="#000"  stroke="#000" stroke-width="0.1">EXPRESSION (AUC = 0.052)</text>
<text transform="translate(690.2,248.4) scale(0.736875,1)" text-anchor="start" font-family="Liberation Sans" font-size="6.4" font-weight="normal" fill="#000"  stroke="#000" stroke-width="0.1">ExRANGES (AUC = 0.0666)</text>
</svg>
</body></html>
